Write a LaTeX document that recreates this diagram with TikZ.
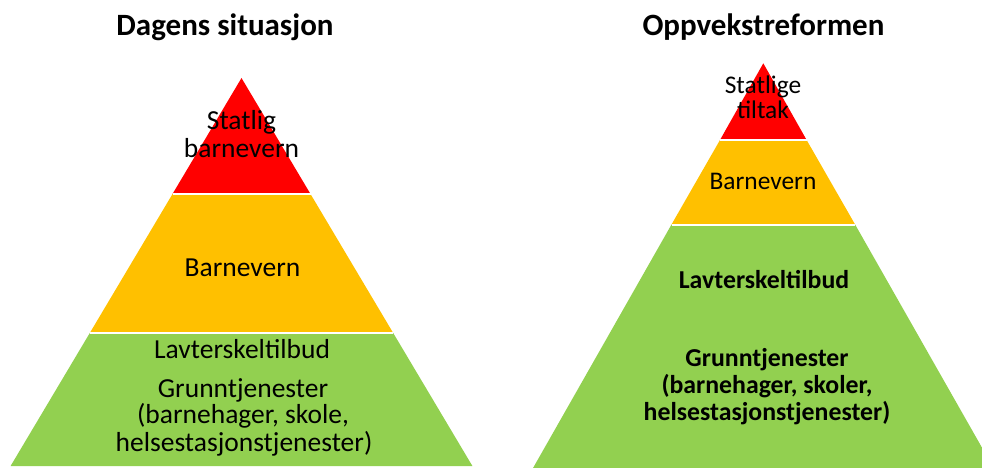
\documentclass[tikz,border=0pt]{standalone}
\usepackage{fontspec}
\setmainfont{Carlito}
\definecolor{pyrred}{HTML}{FF0000}
\definecolor{pyryellow}{HTML}{FFC000}
\definecolor{pyrgreen}{HTML}{92D050}
\tikzset{
  layer/.style={draw=none},
  sep/.style={draw=white, line width=2pt},
  title/.style={anchor=base, inner sep=0pt, font=\fontsize{31}{36}\selectfont\bfseries},
  lbody/.style={anchor=base, inner sep=0pt, font=\fontsize{27.5}{32}\selectfont},
  rbody/.style={anchor=base, inner sep=0pt, font=\fontsize{25.4}{30}\selectfont},
  rbold/.style={anchor=base, inner sep=0pt, font=\fontsize{25.8}{30}\selectfont\bfseries},
}
\begin{document}
\begin{tikzpicture}[x=1pt, y=-1pt]
\useasboundingbox (0,0) rectangle (982,468);
\clip (0,0) rectangle (982,468);
% left pyramid
\coordinate (LA) at (241.5,78);
\coordinate (L1l) at (172.5,194); \coordinate (L1r) at (310.5,194);
\coordinate (L2l) at (89.8,333);  \coordinate (L2r) at (393.2,333);
\coordinate (L3l) at (10.6,466);  \coordinate (L3r) at (472.4,466);
\fill[pyrred, layer] (LA) -- (L1r) -- (L1l) -- cycle;
\fill[pyryellow, layer] (L1l) -- (L1r) -- (L2r) -- (L2l) -- cycle;
\fill[pyrgreen, layer] (L2l) -- (L2r) -- (L3r) -- (L3l) -- cycle;
\draw[sep] (L1l) -- (L1r);
\draw[sep] (L2l) -- (L2r);
% right pyramid
\coordinate (RA) at (763.3,63.3);
\coordinate (R1l) at (719.7,140.5); \coordinate (R1r) at (806.9,140.5);
\coordinate (R2l) at (671.5,224.5); \coordinate (R2r) at (855.1,224.5);
\coordinate (R3l) at (531.9,470);   \coordinate (R3r) at (994.7,470);
\fill[pyrred, layer] (RA) -- (R1r) -- (R1l) -- cycle;
\fill[pyryellow, layer] (R1l) -- (R1r) -- (R2r) -- (R2l) -- cycle;
\fill[pyrgreen, layer] (R2l) -- (R2r) -- (R3r) -- (R3l) -- cycle;
\draw[sep] (R1l) -- (R1r);
\draw[sep] (R2l) -- (R2r);
% titles
\node[title] (t1) at (225,36) {Dagens situasjon};
\node[title] (t2) at (763.5,36) {Oppvekstreformen};
% left texts
\node[lbody] (l1a) at (241.5,130) {Statlig};
\node[lbody] (l1b) at (241.5,157.5) {barnevern};
\node[lbody] (l2) at (242.5,276) {Barnevern};
\node[lbody] (l3) at (242,358.3) {Lavterskeltilbud};
\node[lbody] (l4a) at (243,397) {Grunntjenester};
\node[lbody] (l4b) at (243,423) {(barnehager, skole,};
\node[lbody] (l4c) at (244,451.5) {helsestasjonstjenester)};
% right texts
\node[rbody] (r1a) at (763,93.3) {Statlige};
\node[rbody] (r1b) at (763,118.3) {tiltak};
\node[rbody] (r2) at (763,189.3) {Barnevern};
\node[rbold] (r3) at (764,288.3) {Lavterskeltilbud};
\node[rbold] (r4a) at (767,366) {Grunntjenester};
\node[rbold] (r4b) at (767,393.3) {(barnehager, skoler,};
\node[rbold] (r4c) at (767,420) {helsestasjonstjenester)};
\end{tikzpicture}
\end{document}
